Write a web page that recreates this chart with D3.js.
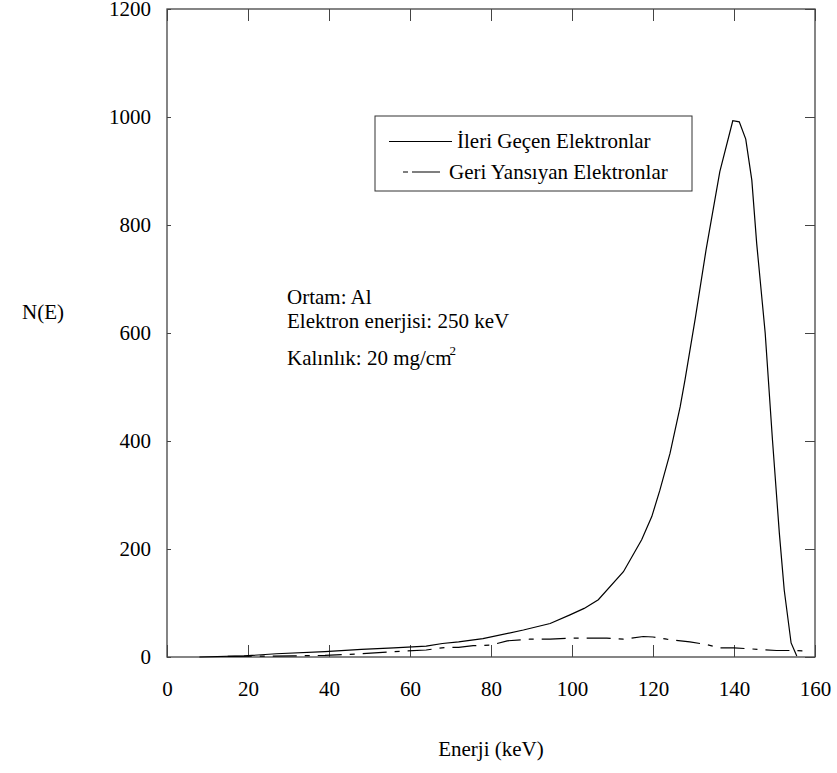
<!DOCTYPE html>
<html>
<head>
<meta charset="utf-8">
<script src="https://cdn.jsdelivr.net/npm/d3@7"></script>
<style>
  html, body { margin: 0; padding: 0; background: #fff; }
  svg { display: block; }
</style>
</head>
<body>
<svg id="chart" width="837" height="773"></svg>
<script>
// ---- data ----
const xTicks = [0, 20, 40, 60, 80, 100, 120, 140, 160];
const yTicks = [0, 200, 400, 600, 800, 1000, 1200];

// İleri Geçen Elektronlar (transmitted)
const forwardE = [8, 19, 27, 39, 48, 56, 64, 68, 72, 78, 88, 94.6, 99.5, 103, 106.5, 112.7, 117.2, 119.7, 121.7, 124.2, 126.7, 127.9, 130.5, 133.1, 136.5, 139.7, 141.3, 142.9, 144.4, 145.6, 147.7, 149.5, 151.2, 152.4, 154.1, 155.5];
const forwardN = [0, 2, 6, 10, 14, 17, 20, 25, 28, 34, 50, 62, 78, 90, 106, 158, 217, 260, 309, 377, 463, 513, 630, 754, 899, 993, 991, 959, 883, 766, 600, 402, 229, 124, 26, 2];

// Geri Yansıyan Elektronlar (backscattered)
const backE = [15, 31, 39, 48, 56, 64, 69, 72, 75.6, 80, 84, 89.6, 94.6, 100.3, 104.4, 108.6, 112.7, 117.6, 120, 123.4, 129.1, 133.3, 136.5, 140, 146.4, 150.5, 154.6, 158.8];
const backN = [1, 2, 3, 6, 10, 13, 18, 18, 21, 22, 30, 33, 33, 35, 35, 35, 33, 38, 37, 33, 28, 23, 17, 17, 14, 12, 12, 11];

const legendLabels = ["İleri Geçen Elektronlar", "Geri Yansıyan Elektronlar"];
const infoLines = ["Ortam: Al", "Elektron enerjisi: 250 keV"];
const thicknessText = "Kalınlık: 20 mg/cm";
const xTitle = "Enerji (keV)";
const yTitle = "N(E)";

// ---- layout ----
const FONT = "'Liberation Serif', 'Times New Roman', 'DejaVu Serif', serif";
const svg = d3.select("#chart");
const pL = 167, pR = 815, pT = 9, pB = 657;
const fs = 21;

const x = d3.scaleLinear().domain([0, 160]).range([pL, pR]);
const y = d3.scaleLinear().domain([0, 1200]).range([pB, pT]);

const axisColor = "#444";

// frame
svg.append("rect")
  .attr("x", pL).attr("y", pT)
  .attr("width", pR - pL).attr("height", pB - pT)
  .attr("fill", "none").attr("stroke", axisColor).attr("stroke-width", 1.3);

// bottom axis (ticks inward)
const gx = svg.append("g").attr("transform", `translate(0,${pB})`)
  .call(d3.axisBottom(x).tickValues(xTicks).tickSizeInner(-12).tickSizeOuter(0).tickPadding(24).tickFormat(d3.format("d")));
gx.attr("font-family", FONT).attr("font-size", fs);
gx.select(".domain").remove();
gx.selectAll(".tick line").attr("stroke", axisColor);
gx.selectAll("text").attr("font-family", FONT).attr("font-size", fs).attr("fill", "#000");

// top ticks
const gxt = svg.append("g").attr("transform", `translate(0,${pT})`)
  .call(d3.axisTop(x).tickValues(xTicks).tickSizeInner(-12).tickSizeOuter(0).tickFormat(""));
gxt.select(".domain").remove();
gxt.selectAll(".tick line").attr("stroke", axisColor);

// left axis
const gy = svg.append("g").attr("transform", `translate(${pL},0)`)
  .call(d3.axisLeft(y).tickValues(yTicks).tickSizeInner(-4).tickSizeOuter(0).tickPadding(16).tickFormat(d3.format("d")));
gy.attr("font-family", FONT).attr("font-size", fs);
gy.select(".domain").remove();
gy.selectAll(".tick line").attr("stroke", axisColor);
gy.selectAll("text").attr("font-family", FONT).attr("font-size", fs).attr("fill", "#000");

// right ticks
const gyr = svg.append("g").attr("transform", `translate(${pR},0)`)
  .call(d3.axisRight(y).tickValues(yTicks).tickSizeInner(-10).tickSizeOuter(0).tickFormat(""));
gyr.select(".domain").remove();
gyr.selectAll(".tick line").attr("stroke", axisColor);

function label(px, py, str, anchor) {
  return svg.append("text").attr("x", px).attr("y", py)
    .attr("font-family", FONT).attr("font-size", fs)
    .attr("text-anchor", anchor || "start").attr("fill", "#000").text(str);
}

// axis titles
label((pL + pR) / 2, 756, xTitle, "middle");
label(22, 319, yTitle);

// lines
const line = d3.line().x(d => x(d[0])).y(d => y(d[1]));
svg.append("path")
  .datum(d3.zip(forwardE, forwardN))
  .attr("d", line).attr("fill", "none").attr("stroke", "#000").attr("stroke-width", 1.2);
svg.append("path")
  .datum(d3.zip(backE, backN))
  .attr("d", line).attr("fill", "none").attr("stroke", "#000").attr("stroke-width", 1.2)
  .attr("stroke-dasharray", "24,8,5,8");

// legend
svg.append("rect").attr("x", 375).attr("y", 116).attr("width", 317).attr("height", 75)
  .attr("fill", "#fff").attr("stroke", "#333").attr("stroke-width", 1);
svg.append("line").attr("x1", 389).attr("x2", 452).attr("y1", 141.5).attr("y2", 141.5)
  .attr("stroke", "#000").attr("stroke-width", 1.2);
label(457, 147.5, legendLabels[0]);
svg.append("line").attr("x1", 403).attr("x2", 445).attr("y1", 172).attr("y2", 172)
  .attr("stroke", "#000").attr("stroke-width", 1.2).attr("stroke-dasharray", "5,4,28,10");
label(449, 179, legendLabels[1]);

// info text
label(287, 303.5, infoLines[0]);
label(287, 327.5, infoLines[1]);
const t3 = label(287, 365, null);
t3.text(null);
t3.append("tspan").text(thicknessText);
t3.append("tspan").attr("dx", -2).attr("dy", -10).attr("font-size", 13).text("2");
</script>
</body>
</html>
